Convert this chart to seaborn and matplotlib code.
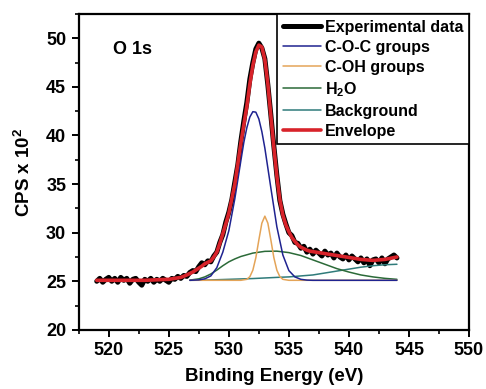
import matplotlib
matplotlib.use("Agg")
import matplotlib.pyplot as plt
from matplotlib.ticker import MultipleLocator
import seaborn as sns
import pandas as pd

# ---------------- data ----------------
exp_energy = [519.00, 519.25, 519.50, 519.75, 520.00, 520.25, 520.50, 520.75, 521.00, 521.25,
              521.50, 521.75, 522.00, 522.25, 522.50, 522.75, 523.00, 523.25, 523.50, 523.75,
              524.00, 524.25, 524.50, 524.75, 525.00, 525.25, 525.50, 525.75, 526.00, 526.25,
              526.50, 526.75, 527.00, 527.25, 527.50, 527.75, 528.00, 528.25, 528.50, 528.75,
              529.00, 529.25, 529.50, 529.75, 530.00, 530.25, 530.50, 530.75, 531.00, 531.25,
              531.50, 531.75, 532.00, 532.25, 532.50, 532.75, 533.00, 533.25, 533.50, 533.75,
              534.00, 534.25, 534.50, 534.75, 535.00, 535.25, 535.50, 535.75, 536.00, 536.25,
              536.50, 536.75, 537.00, 537.25, 537.50, 537.75, 538.00, 538.25, 538.50, 538.75,
              539.00, 539.25, 539.50, 539.75, 540.00, 540.25, 540.50, 540.75, 541.00, 541.25,
              541.50, 541.75, 542.00, 542.25, 542.50, 542.75, 543.00, 543.25, 543.50, 543.75,
              544.00]
exp_cps = [25.0, 25.3, 24.9, 25.2, 25.4, 25.0, 25.3, 24.9, 25.4, 25.1,
           25.3, 24.8, 25.2, 25.3, 24.9, 24.6, 25.2, 25.0, 25.3, 24.9,
           25.2, 25.0, 25.3, 25.1, 24.9, 25.3, 25.2, 25.5, 25.3, 25.6,
           25.5, 25.9, 26.1, 26.0, 26.5, 26.9, 26.7, 27.1, 27.0, 27.6,
           28.0, 29.0, 29.8, 31.1, 32.1, 33.4, 35.2, 37.0, 39.4, 41.5,
           43.4, 45.8, 47.5, 48.9, 49.5, 49.0, 47.9, 45.2, 42.1, 38.9,
           35.9, 33.3, 31.9, 30.9, 30.0, 29.7, 29.0, 28.9, 28.4, 28.6,
           28.0, 28.3, 27.8, 28.2, 27.9, 27.6, 28.1, 27.7, 27.9, 27.4,
           27.9, 27.5, 27.3, 27.7, 27.2, 27.6, 27.3, 27.0, 27.4, 26.9,
           27.3, 26.6, 27.2, 27.3, 26.9, 27.4, 26.8, 27.3, 27.5, 27.7,
           27.4]

coc_energy = [526.75, 527.5, 528.0, 528.5, 529.0, 529.5, 530.0, 530.5, 531.0, 531.25,
              531.5, 531.75, 532.0, 532.25, 532.5, 532.75, 533.0, 533.5, 534.0, 534.5,
              535.0, 535.5, 536.0, 536.5, 537.0, 544.0]
coc_cps = [25.10, 25.14, 25.25, 25.55, 26.4, 28.0, 30.2, 33.5, 37.4, 39.3,
           40.8, 41.9, 42.45, 42.4, 41.7, 40.4, 38.7, 34.6, 30.6, 27.7,
           26.1, 25.45, 25.2, 25.12, 25.1, 25.1]

coh_energy = [526.75, 531.0, 531.5, 531.75, 532.0, 532.25, 532.5, 532.75, 533.0, 533.25,
              533.5, 533.75, 534.0, 534.25, 534.5, 535.0, 544.0]
coh_cps = [25.1, 25.1, 25.2, 25.47, 26.14, 27.43, 29.25, 30.98, 31.7, 30.98,
           29.25, 27.43, 26.14, 25.47, 25.2, 25.1, 25.1]

h2o_energy = [526.75, 527.5, 528.0, 528.5, 529.0, 529.5, 530.0, 530.5, 531.0, 532.0,
              533.0, 534.0, 535.0, 536.0, 537.0, 538.0, 539.0, 540.0, 541.0, 542.0,
              543.0, 544.0]
h2o_cps = [25.12, 25.25, 25.45, 25.75, 26.15, 26.6, 27.0, 27.3, 27.55, 27.9,
           28.08, 28.1, 27.95, 27.65, 27.2, 26.75, 26.3, 25.95, 25.65, 25.45,
           25.3, 25.2]

bg_energy = [526.75, 528.0, 530.0, 532.0, 534.0, 535.0, 536.0, 537.0, 538.0, 539.0,
             540.0, 541.0, 542.0, 543.0, 544.0]
bg_cps = [25.1, 25.12, 25.2, 25.28, 25.4, 25.45, 25.55, 25.65, 25.85, 26.05,
          26.25, 26.45, 26.6, 26.7, 26.75]

env_energy = [519.0, 520.0, 521.0, 522.0, 523.0, 524.0, 524.5, 525.0, 525.5, 526.0,
              526.25, 526.5, 526.75, 527.0, 527.25, 527.5, 527.75, 528.0, 528.25, 528.5,
              528.75, 529.0, 529.25, 529.5, 529.75, 530.0, 530.25, 530.5, 530.75, 531.0,
              531.25, 531.5, 531.75, 532.0, 532.25, 532.5, 532.75, 533.0, 533.25, 533.5,
              533.75, 534.0, 534.25, 534.5, 534.75, 535.0, 535.25, 535.5, 535.75, 536.0,
              536.25, 536.5, 536.75, 537.0, 538.0, 539.0, 540.0, 541.0, 542.0, 543.0,
              544.0]
env_cps = [25.1, 25.1, 25.1, 25.1, 25.1, 25.15, 25.18, 25.2, 25.3, 25.4,
           25.52, 25.65, 25.8, 25.95, 26.15, 26.35, 26.55, 26.8, 26.95, 27.1,
           27.5, 28.0, 28.9, 29.9, 30.9, 32.0, 33.5, 35.0, 37.1, 39.2,
           41.1, 43.0, 45.3, 47.2, 48.6, 49.3, 49.1, 47.8, 45.3, 42.0,
           38.8, 35.8, 33.4, 31.8, 30.8, 30.1, 29.5, 29.1, 28.75, 28.5,
           28.35, 28.2, 28.1, 28.05, 27.85, 27.65, 27.45, 27.25, 27.15, 27.25,
           27.5]

series_labels = ["Experimental data", "C-O-C groups", "C-OH groups",
                 r"H$_\mathbf{2}$O", "Background", "Envelope"]
panel_label = "O 1s"
x_title = "Binding Energy (eV)"
y_title = r"CPS x 10$^2$"

# ---------------- style ----------------
sns.set_style("ticks")
plt.rcParams["font.family"] = ["Liberation Sans", "DejaVu Sans"]
plt.rcParams["font.weight"] = "bold"
plt.rcParams["axes.labelweight"] = "bold"
plt.rcParams["text.color"] = "black"
plt.rcParams["axes.labelcolor"] = "black"
plt.rcParams["xtick.color"] = "black"
plt.rcParams["ytick.color"] = "black"
plt.rcParams["mathtext.fontset"] = "custom"
plt.rcParams["mathtext.rm"] = "Liberation Sans:bold"
plt.rcParams["mathtext.bf"] = "Liberation Sans:bold"
plt.rcParams["mathtext.it"] = "Liberation Sans:bold"

fig = plt.figure(figsize=(4.86, 3.89), dpi=100)
ax = fig.add_axes([0.162, 0.152, 0.803, 0.812])

def frame(e, v):
    return pd.DataFrame({"E": e, "CPS": v})

kw = dict(x="E", y="CPS", ax=ax, sort=False, estimator=None)
sns.lineplot(data=frame(exp_energy, exp_cps), color="black", lw=3.6, label=series_labels[0], **kw)
sns.lineplot(data=frame(bg_energy, bg_cps), color="#2f7b7a", lw=1.1, label=series_labels[4], **kw)
sns.lineplot(data=frame(h2o_energy, h2o_cps), color="#2b6a38", lw=1.1, label=series_labels[3], **kw)
sns.lineplot(data=frame(coh_energy, coh_cps), color="#e4a458", lw=1.1, label=series_labels[2], **kw)
sns.lineplot(data=frame(coc_energy, coc_cps), color="#1f2390", lw=1.1, label=series_labels[1], **kw)
sns.lineplot(data=frame(env_energy, env_cps), color="#d8232a", lw=2.6, label=series_labels[5], **kw)

ax.set_xlim(517.5, 550)
ax.set_ylim(20, 52.5)
ax.xaxis.set_major_locator(MultipleLocator(5))
ax.xaxis.set_minor_locator(MultipleLocator(2.5))
ax.yaxis.set_major_locator(MultipleLocator(5))
ax.yaxis.set_minor_locator(MultipleLocator(2.5))
ax.tick_params(which="major", direction="out", length=5, width=1.4, labelsize=13, pad=4,
               top=False, right=False, colors="black")
ax.tick_params(which="minor", direction="out", length=3, width=1.2, top=False, right=False,
               colors="black")
for s in ax.spines.values():
    s.set_linewidth(1.6)
    s.set_color("black")
for lab in ax.get_xticklabels() + ax.get_yticklabels():
    lab.set_fontweight("bold")

ax.set_xlabel(x_title, fontsize=13.5, fontweight="bold", labelpad=6, color="black")
ax.set_ylabel(y_title, fontsize=13.5, fontweight="bold", labelpad=9, color="black")
ax.text(522.0, 48.8, panel_label, fontsize=13, fontweight="bold", ha="center", va="center",
        color="black")

handles, labels = ax.get_legend_handles_labels()
order = [series_labels.index(l) for l in labels]
pairs = sorted(zip(order, handles, labels))
leg = ax.legend([p[1] for p in pairs], [p[2] for p in pairs],
                loc="upper right", bbox_to_anchor=(1.0, 1.0), borderaxespad=0,
                frameon=True, fancybox=False, edgecolor="black", framealpha=1,
                prop={"size": 11.5, "weight": "bold"}, handlelength=2.4,
                handletextpad=0.25, labelspacing=0.32, borderpad=0.35)
leg.get_frame().set_linewidth(1.2)
for t in leg.get_texts():
    t.set_color("black")

fig.savefig("out.png", dpi=100)
